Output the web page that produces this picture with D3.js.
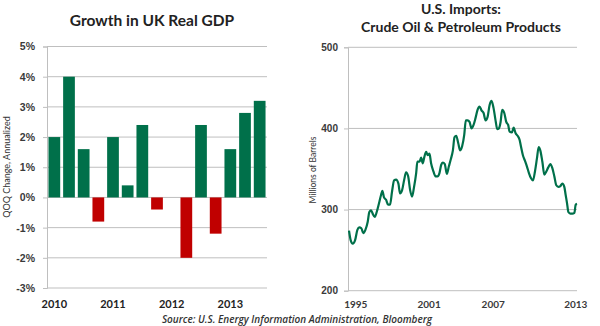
<!DOCTYPE html>
<html>
<head>
<meta charset="utf-8">
<script src="https://cdn.jsdelivr.net/npm/d3@7"></script>
<style>
  body { margin: 0; background: #fff; }
  svg { display: block; font-family: Lato, "Open Sans", sans-serif; }
</style>
</head>
<body>
<svg width="600" height="326"></svg>
<script>
// UK GDP, quarter on quarter, annualized
const gdpQuarters = ['2010Q1','2010Q2','2010Q3','2010Q4','2011Q1','2011Q2','2011Q3','2011Q4',
  '2012Q1','2012Q2','2012Q3','2012Q4','2013Q1','2013Q2','2013Q3'];
const gdpGrowth = [2.0, 4.0, 1.6, -0.8, 2.0, 0.4, 2.4, -0.4, 0, -2.0, 2.4, -1.2, 1.6, 2.8, 3.2];
const gdpTicks = [5, 4, 3, 2, 1, 0, -1, -2, -3];
const gdpYearLabels = ['2010', '2011', '2012', '2013'];

// US imports of crude oil & petroleum products (millions of barrels)
const importDates = [1995.00,1995.14,1995.30,1995.49,1995.68,1995.84,1996.00,1996.16,1996.33,1996.52,
  1996.65,1996.79,1996.92,1997.09,1997.25,1997.44,1997.60,1997.71,1997.84,1998.01,
  1998.17,1998.33,1998.49,1998.66,1998.82,1999.01,1999.14,1999.31,1999.47,1999.63,
  1999.80,1999.96,2000.12,2000.28,2000.45,2000.55,2000.72,2000.85,2000.99,2001.10,
  2001.26,2001.39,2001.53,2001.66,2001.85,2002.02,2002.18,2002.34,2002.48,2002.61,
  2002.77,2002.94,2003.10,2003.26,2003.43,2003.56,2003.70,2003.86,2004.02,2004.18,
  2004.35,2004.48,2004.62,2004.78,2004.94,2005.10,2005.27,2005.43,2005.59,2005.76,
  2005.92,2006.08,2006.24,2006.41,2006.57,2006.73,2006.89,2007.03,2007.16,2007.30,
  2007.43,2007.60,2007.76,2007.92,2008.03,2008.22,2008.36,2008.52,2008.68,2008.84,
  2008.95,2009.11,2009.28,2009.44,2009.60,2009.76,2009.93,2010.09,2010.25,2010.39,
  2010.52,2010.69,2010.85,2011.01,2011.17,2011.34,2011.50,2011.66,2011.82,2011.99,
  2012.15,2012.31,2012.47,2012.58,2012.69,2012.80,2012.96,2013.12,2013.29,2013.39,2013.50];
const importValues = [274,262,258,262,275,278,277,271,275,285,
  297,299,295,291,297,308,318,323,315,312,
  306,306,322,336,337,332,320,324,336,346,
  341,324,316,328,345,359,359,364,357,364,
  371,367,369,357,347,341,341,345,355,358,
  356,344,353,362,373,389,391,382,373,378,
  392,410,410,408,400,404,413,423,427,422,
  419,410,414,429,434,425,410,399,400,408,
  423,419,408,404,396,395,401,394,391,386,
  378,367,360,353,345,339,336,347,363,377,
  373,359,343,347,352,356,351,341,330,328,
  329,332,328,318,308,297,295,295,296,306,307];
const importTicks = [200, 300, 400, 500];
const importYearPos = [1995.55, 2001.5, 2006.7, 2013.4];
const importYearLabels = ['1995', '2001', '2007', '2013'];

const green = '#00704a';
const red = '#c00000';
const gridColor = '#bfbfbf';
const textColor = '#3a3a3a';

const svg = d3.select('svg');

// ---- left panel: bars ----
const x1 = d3.scaleBand().domain(gdpQuarters).range([47, 267]).paddingInner(0.2).paddingOuter(0.1);
const y1 = d3.scaleLinear().domain([-3, 5]).range([288, 46.5]);

svg.append('text')
  .attr('x', 152).attr('y', 26)
  .attr('text-anchor', 'middle')
  .attr('font-size', 15.5).attr('font-weight', 'bold')
  .attr('fill', '#222')
  .text('Growth in UK Real GDP');

const g1 = svg.append('g');
g1.selectAll('line.grid').data(gdpTicks).join('line')
  .attr('class', 'grid')
  .attr('x1', 47).attr('x2', 267)
  .attr('y1', d => y1(d)).attr('y2', d => y1(d))
  .attr('stroke', gridColor).attr('stroke-width', 1);

const yAxis1 = g1.append('g')
  .attr('transform', 'translate(47,0)')
  .call(d3.axisLeft(y1).tickValues(gdpTicks).tickSize(4).tickPadding(8).tickFormat(d => d + '%'));
yAxis1.select('.domain').attr('stroke', gridColor);
yAxis1.selectAll('.tick line').attr('stroke', gridColor);
yAxis1.selectAll('text').attr('font-size', 10.5).attr('font-weight', 'bold').attr('fill', textColor);

g1.selectAll('rect').data(gdpGrowth).join('rect')
  .attr('x', (d, i) => x1(gdpQuarters[i]))
  .attr('width', x1.bandwidth())
  .attr('y', d => y1(Math.max(0, d)))
  .attr('height', d => Math.abs(y1(d) - y1(0)))
  .attr('fill', d => d < 0 ? red : green);

g1.selectAll('text.year').data(gdpYearLabels).join('text')
  .attr('class', 'year')
  .attr('x', d => x1(d + 'Q1') + x1.bandwidth() / 2)
  .attr('y', 308)
  .attr('text-anchor', 'middle')
  .attr('font-size', 11).attr('font-weight', 'bold').attr('fill', '#222')
  .text(d => d);

svg.append('text')
  .attr('transform', 'translate(10,167) rotate(-90)')
  .attr('text-anchor', 'middle')
  .attr('font-size', 9).attr('fill', '#333')
  .text('QOQ Change, Annualized');

// ---- right panel: line ----
const x2 = d3.scaleLinear().domain([1995, 2013.5]).range([349, 577]);
const y2 = d3.scaleLinear().domain([200, 500]).range([290.7, 47.3]);

svg.append('text')
  .attr('x', 461).attr('y', 13.5)
  .attr('text-anchor', 'middle')
  .attr('font-size', 14).attr('font-weight', 'bold').attr('fill', '#222')
  .text('U.S. Imports:');
svg.append('text')
  .attr('x', 461).attr('y', 31.5)
  .attr('text-anchor', 'middle')
  .attr('font-size', 14).attr('font-weight', 'bold').attr('fill', '#222')
  .text('Crude Oil & Petroleum Products');

const g2 = svg.append('g');
g2.selectAll('line.grid').data(importTicks).join('line')
  .attr('class', 'grid')
  .attr('x1', 348).attr('x2', 577)
  .attr('y1', d => y2(d)).attr('y2', d => y2(d))
  .attr('stroke', gridColor).attr('stroke-width', 1);

const yAxis2 = g2.append('g')
  .attr('transform', 'translate(348,0)')
  .call(d3.axisLeft(y2).tickValues(importTicks).tickSize(4).tickPadding(6));
yAxis2.select('.domain').attr('stroke', gridColor);
yAxis2.selectAll('.tick line').attr('stroke', gridColor);
yAxis2.selectAll('text').attr('font-size', 10).attr('font-weight', 'bold').attr('fill', textColor);

g2.selectAll('text.year').data(importYearLabels).join('text')
  .attr('class', 'year')
  .attr('x', (d, i) => x2(importYearPos[i]))
  .attr('y', 308)
  .attr('text-anchor', 'middle')
  .attr('font-size', 10).attr('font-weight', 'bold').attr('fill', textColor)
  .text(d => d);

const line = d3.line()
  .x((d, i) => x2(importDates[i]))
  .y(d => y2(d))
  .curve(d3.curveMonotoneX);

g2.append('path')
  .attr('d', line(importValues))
  .attr('fill', 'none')
  .attr('stroke', green)
  .attr('stroke-width', 2.2)
  .attr('stroke-linejoin', 'round');

svg.append('text')
  .attr('transform', 'translate(316,170) rotate(-90)')
  .attr('text-anchor', 'middle')
  .attr('font-size', 8.5).attr('fill', '#333')
  .text('Millions of Barrels');

svg.append('text')
  .attr('x', 297).attr('y', 323)
  .attr('text-anchor', 'middle')
  .attr('font-family', '"Open Sans", sans-serif')
  .attr('font-size', 10).attr('font-weight', 600).attr('font-style', 'italic')
  .attr('fill', '#333')
  .text('Source: U.S. Energy Information Administration, Bloomberg');
</script>
</body>
</html>
